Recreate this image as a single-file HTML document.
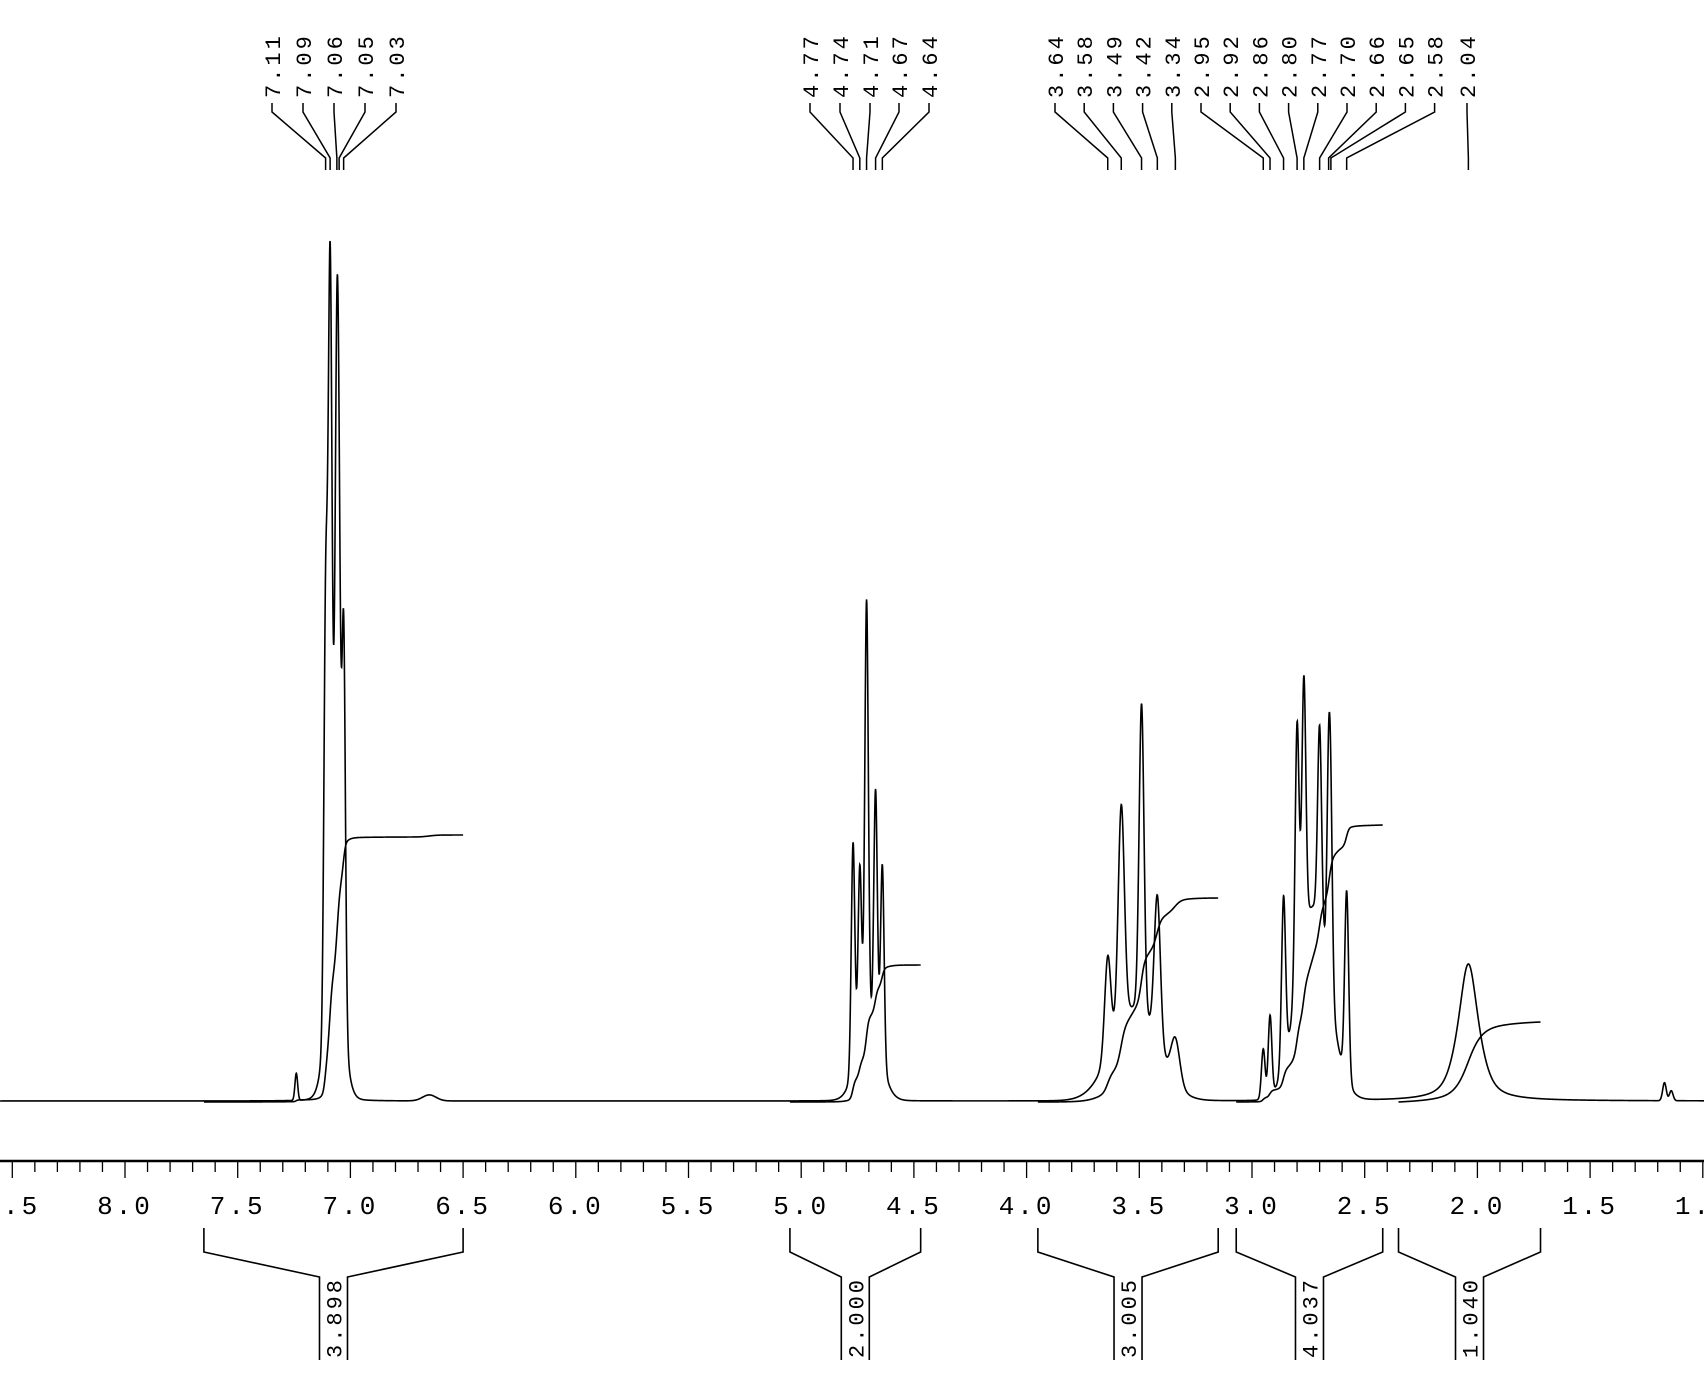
<!DOCTYPE html>
<html><head><meta charset="utf-8"><style>
html,body{margin:0;padding:0;background:#fff;}
svg{display:block;}
text{font-family:"Liberation Mono","DejaVu Sans Mono",monospace;fill:#000;}
</style></head><body>
<svg id="chart" width="1704" height="1395" viewBox="0 0 1704 1395" xmlns="http://www.w3.org/2000/svg">
<g id="spec"></g>
<g id="integ"></g>
<g id="axis"></g>
<g id="brackets"></g>
<g id="peaklabels"></g>
</svg>
<script>
// ---- data ----
const peakPpm    = [7.24,7.11,7.09,7.06,7.05,7.03,7.07, 4.77,4.74,4.71,4.67,4.64,4.70, 3.64,3.58,3.49,3.42,3.34,3.52, 2.95,2.92,2.86,2.80,2.77,2.70,2.66,2.65,2.58,2.73, 2.04, 6.65, 1.17,1.14];
const peakHeight = [27,400,720,565,240,400,130, 230,180,430,250,200,70, 100,220,310,150,45,90, 50,80,170,260,260,200,190,150,190,190, 137, 6, 18,10];
const peakWidth  = [0.006,0.008,0.009,0.009,0.008,0.008,0.035, 0.008,0.008,0.008,0.008,0.008,0.05, 0.014,0.014,0.011,0.014,0.02,0.1, 0.008,0.008,0.009,0.009,0.009,0.009,0.008,0.008,0.009,0.07, 0.05, 0.03, 0.008,0.008];
const lorentzFrac= [0,0.1,0.1,0.1,0.1,0.1,0, 0.1,0.1,0.1,0.1,0.1,0, 0.1,0.1,0.1,0.1,0.1,0, 0,0,0.1,0.1,0.1,0.1,0.1,0.1,0.1,0, 0.7, 0, 0,0];
const labelValues = ["7.11","7.09","7.06","7.05","7.03","4.77","4.74","4.71","4.67","4.64","3.64","3.58","3.49","3.42","3.34","2.95","2.92","2.86","2.80","2.77","2.70","2.66","2.65","2.58","2.04"];
const intStart = [7.65,5.05,3.95,3.07,2.35];
const intEnd   = [6.50,4.47,3.15,2.42,1.72];
const intHeight= [267,137,204,277,80];
const intValues= ["3.898","2.000","3.005","4.037","1.040"];
const tickLabels = ["8.5","8.0","7.5","7.0","6.5","6.0","5.5","5.0","4.5","4.0","3.5","3.0","2.5","2.0","1.5","1.0"];

// ---- scales ----
const X0=125, PXPPM=225.4, BASE=1101;
function x(p){return X0+(8.0-p)*PXPPM;}
function spec(p){let s=0;for(let i=0;i<peakPpm.length;i++){const d=(p-peakPpm[i])/peakWidth[i];const f=lorentzFrac[i];
  s+=peakHeight[i]*((1-f)*Math.exp(-d*d/2)+f/(1+d*d));}return s;}
const NS="http://www.w3.org/2000/svg";
function el(t,a,parent){const e=document.createElementNS(NS,t);for(const k in a)e.setAttribute(k,a[k]);parent.appendChild(e);return e;}

// spectrum
let d="";
for(let p=8.6;p>=0.95;p-=0.001){const X=x(p);d+=(d?"L":"M")+X.toFixed(2)+" "+(BASE-spec(p)).toFixed(2);}
const sp=el("path",{d:d,fill:"none",stroke:"#000","stroke-width":"1.6"},document.getElementById("spec"));



// integrals
const ig=document.getElementById("integ");
for(let k=0;k<intStart.length;k++){
  const a=intStart[k],b=intEnd[k];let tot=0;const cum=[];
  for(let p=a;p>=b;p-=0.002){tot+=spec(p);cum.push([p,tot]);}
  let dd="";cum.forEach(c=>{dd+=(dd?"L":"M")+x(c[0]).toFixed(2)+" "+(BASE+1-c[1]/tot*intHeight[k]).toFixed(2);});
  const ip=el("path",{d:dd,fill:"none",stroke:"#000","stroke-width":"1.6"},ig);
  
  
}

// axis
const ax=document.getElementById("axis");
const al=el("line",{x1:0,y1:1161,x2:1704,y2:1161,stroke:"#000","stroke-width":"2.5"},ax);


for(let i=0;i<=80;i++){const p=8.6-i*0.1;const X=x(p);if(X<-2||X>1706)continue;
  const major=Math.abs(p*2-Math.round(p*2))<1e-6;
  el("line",{x1:X,y1:1161,x2:X,y2:major?1178:1172,stroke:"#000","stroke-width":"1.3"},ax);}
tickLabels.forEach(t=>{const tx=el("text",{x:x(parseFloat(t)),y:1214,"text-anchor":"middle","font-size":"26","letter-spacing":"3"},ax);tx.textContent=t;
  
  });

// brackets
const bg=document.getElementById("brackets");
for(let k=0;k<intStart.length;k++){
  const xa=x(intStart[k]),xb=x(intEnd[k]),xc=(xa+xb)/2;
  el("path",{d:`M${xa} 1228 L${xa} 1252 L${xc-14} 1277 L${xc-14} 1360 M${xb} 1228 L${xb} 1252 L${xc+14} 1277 L${xc+14} 1360`,fill:"none",stroke:"#000","stroke-width":"1.6"},bg);
  const t=el("text",{x:0,y:0,"font-size":"22","letter-spacing":"3",transform:`translate(${xc+8},1358) rotate(-90)`},bg);t.textContent=intValues[k];
  
  
}

// peak labels
const pg=document.getElementById("peaklabels");
const labX=[272,303,334,365,396, 810,840,870,899,929];
for(let i=0;i<15;i++)labX.push(1055+i*29.2);
labX[24]=1467;
labelValues.forEach((v,i)=>{
  const lx=labX[i];const px=x(parseFloat(v));
  el("path",{d:`M${lx} 103 L${lx} 112 L${px} 158 L${px} 170`,fill:"none",stroke:"#000","stroke-width":"1.5"},pg);
  const t=el("text",{x:0,y:0,"font-size":"22","letter-spacing":"3",transform:`translate(${lx+8},98) rotate(-90)`},pg);t.textContent=v;
  
  
});
</script>
</body></html>
